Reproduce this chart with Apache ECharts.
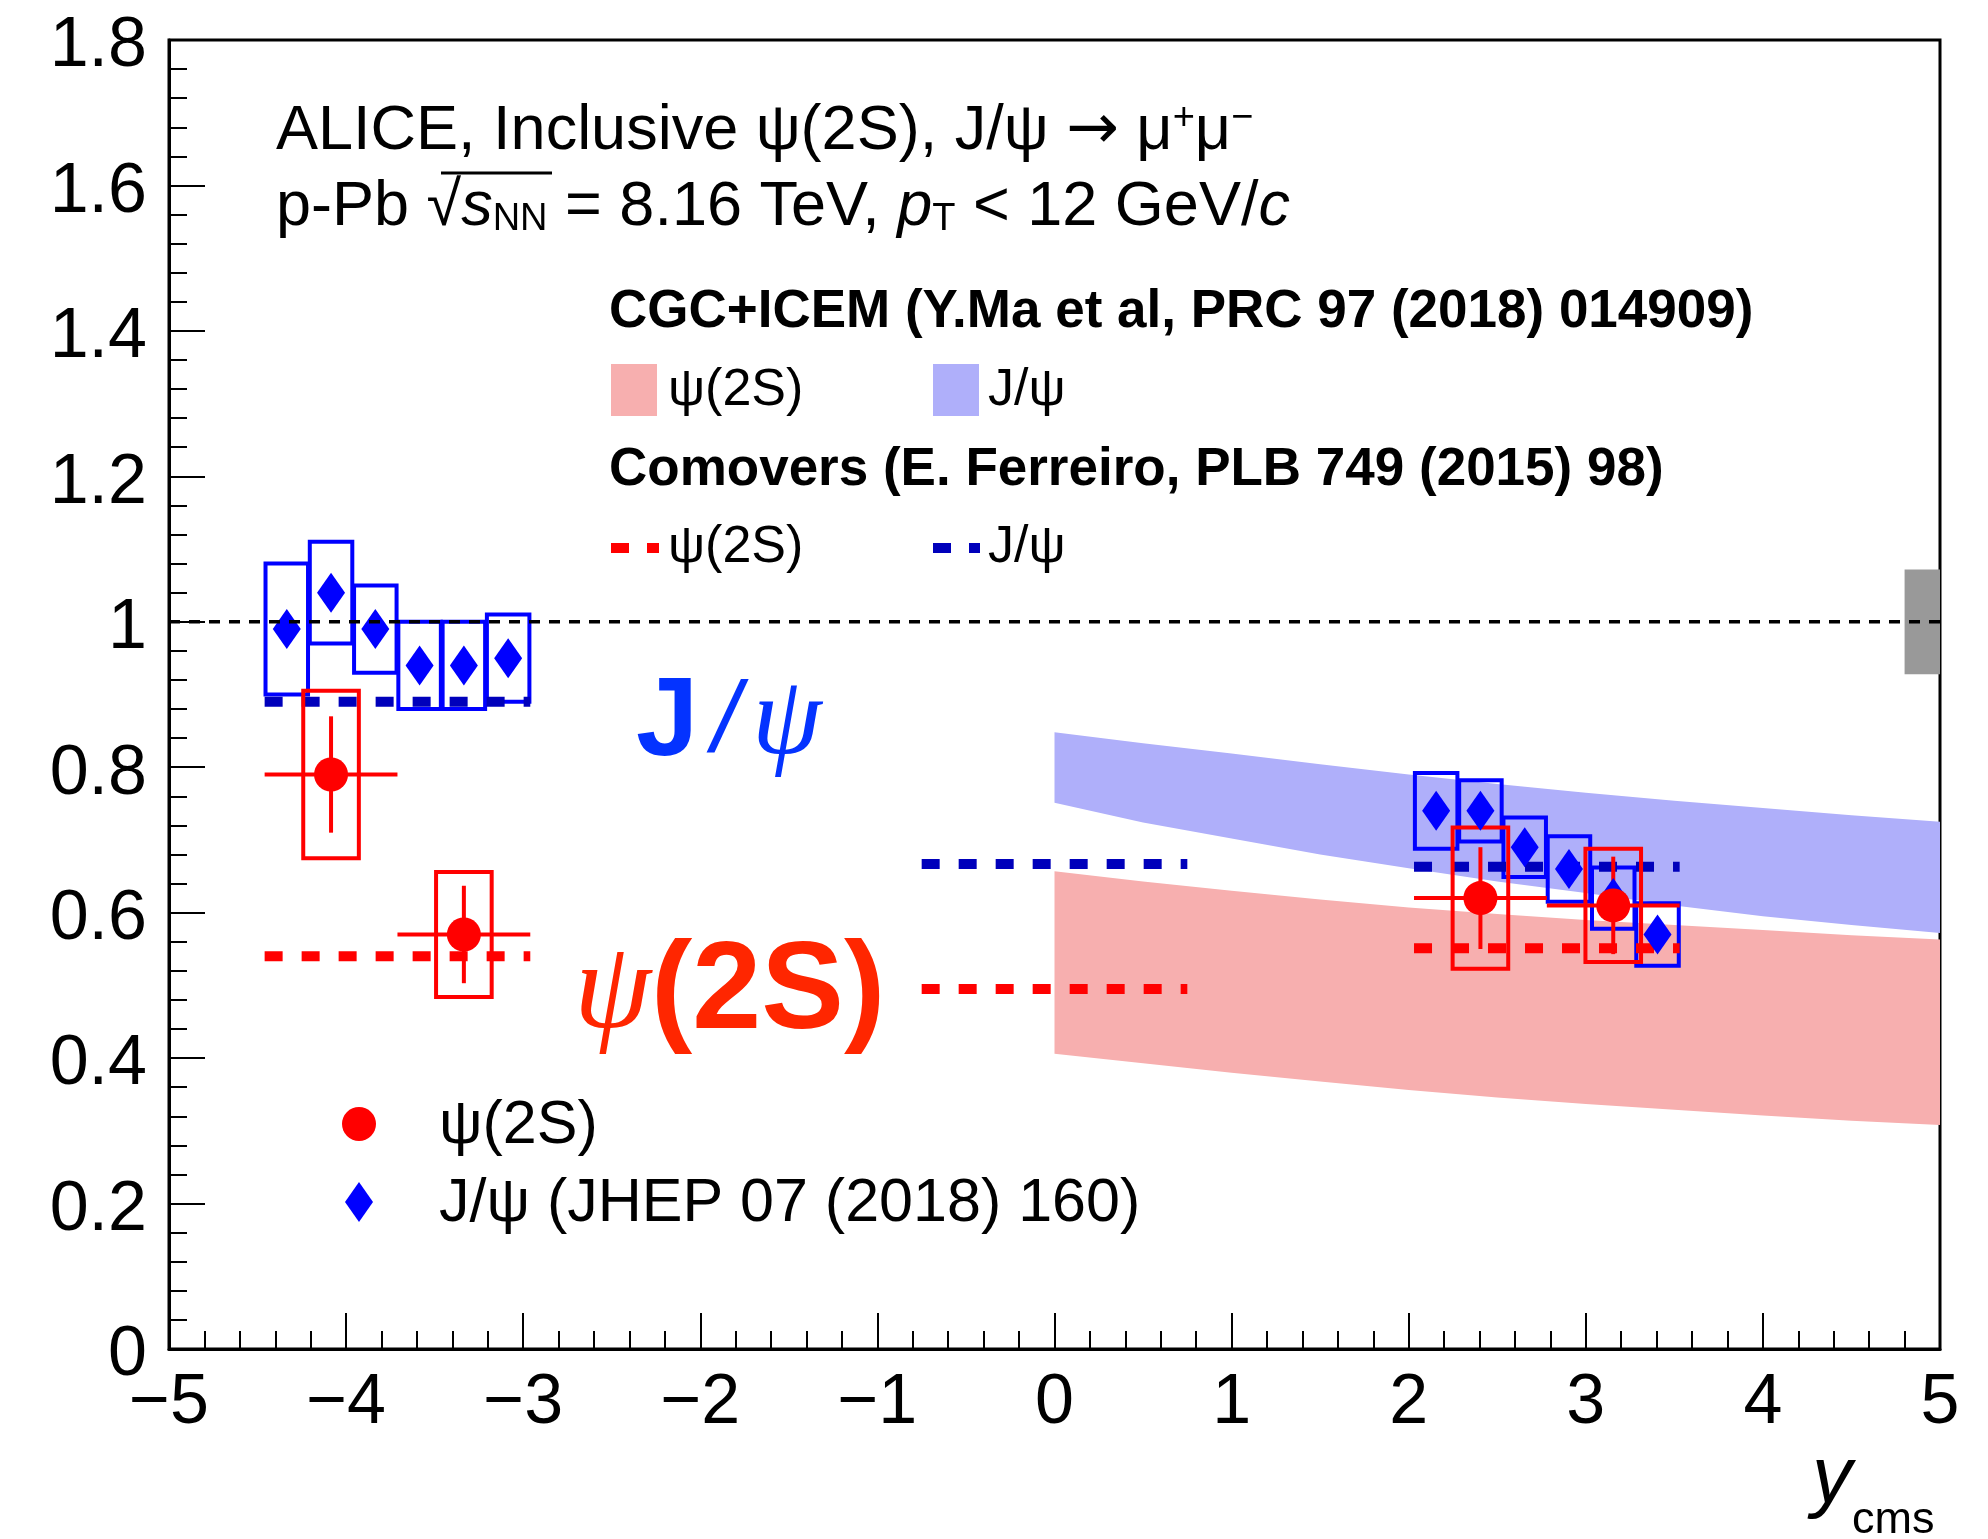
<!DOCTYPE html>
<html>
<head>
<meta charset="utf-8">
<script src="https://cdn.jsdelivr.net/npm/echarts@6/dist/echarts.min.js"></script>
<style>
  html, body { margin: 0; padding: 0; background: #ffffff; }
  #chart { width: 1988px; height: 1539px; }
</style>
</head>
<body>
<div id="chart"></div>
<script>
// ---------- data ----------
// Tick values
const xTicks = [-5, -4, -3, -2, -1, 0, 1, 2, 3, 4, 5];
const yTicks = [0, 0.2, 0.4, 0.6, 0.8, 1, 1.2, 1.4, 1.6, 1.8];

// J/psi R_pPb (JHEP 07 (2018) 160)
const jpsiRap = [-4.335, -4.085, -3.835, -3.585, -3.335, -3.085, 2.155, 2.405, 2.655, 2.905, 3.155, 3.405];
const jpsiVal = [0.99, 1.04, 0.99, 0.94, 0.94, 0.95, 0.74, 0.74, 0.69, 0.66, 0.62, 0.57];
const jpsiSys = [0.09, 0.07, 0.06, 0.06, 0.06, 0.06, 0.052, 0.042, 0.041, 0.045, 0.042, 0.043];
const jpsiBoxHalfWidth = 0.12;

// psi(2S) R_pPb
const psiRap = [-4.085, -3.335, 2.405, 3.155];
const psiBinHalf = [0.375, 0.375, 0.375, 0.375];
const psiVal = [0.79, 0.57, 0.62, 0.61];
const psiStat = [0.08, 0.067, 0.07, 0.067];
const psiSys = [0.115, 0.086, 0.097, 0.078];
const psiBoxHalfWidth = 0.157;

// CGC+ICEM bands
const cgcRap = [0, 0.5, 1, 1.5, 2, 2.5, 3, 3.5, 4, 4.5, 5];
const cgcJpsiHigh = [0.848, 0.833, 0.819, 0.804, 0.790, 0.777, 0.765, 0.754, 0.744, 0.734, 0.725];
const cgcJpsiLow = [0.751, 0.724, 0.702, 0.680, 0.661, 0.643, 0.627, 0.610, 0.595, 0.583, 0.572];
const cgcPsiHigh = [0.657, 0.643, 0.630, 0.618, 0.607, 0.598, 0.590, 0.583, 0.576, 0.569, 0.563];
const cgcPsiLow = [0.406, 0.393, 0.380, 0.368, 0.356, 0.346, 0.337, 0.329, 0.321, 0.314, 0.308];

// Comovers (rapidity ranges and values)
const comoversFrom = [-4.46, -0.75, 2.03];
const comoversTo = [-2.96, 0.75, 3.53];
const comoversJpsi = [0.89, 0.667, 0.663];
const comoversPsi = [0.54, 0.495, 0.551];

// Global normalisation uncertainty around unity
const globalFrom = 4.8;
const globalTo = 5.0;
const globalUnc = 0.072;

// ---------- styles ----------
const SANS = '"Liberation Sans", Arial, Helvetica, sans-serif';
const SERIF = '"Liberation Serif", "DejaVu Serif", "Times New Roman", serif';
const RED = '#ff0000';
const BLUE = '#0000ff';
const NAVY = '#0000bb';
const PINK_BAND = '#f7afaf';
const BLUE_BAND = '#afaffa';

// ---------- render helpers ----------
function bandItem(hi, lo, color) {
  return function (params, api) {
    if (params.dataIndex !== 0) return null;
    const pts = [];
    for (let i = 0; i < cgcRap.length; i++) pts.push(api.coord([cgcRap[i], hi[i]]));
    for (let i = cgcRap.length - 1; i >= 0; i--) pts.push(api.coord([cgcRap[i], lo[i]]));
    return { type: 'polygon', shape: { points: pts }, style: { fill: color } };
  };
}

function sysBoxItem(color) {
  return function (params, api) {
    const x = api.value(0), v = api.value(1), s = api.value(2), w = api.value(3);
    const a = api.coord([x - w, v + s]);
    const b = api.coord([x + w, v - s]);
    return {
      type: 'rect',
      shape: { x: a[0], y: a[1], width: b[0] - a[0], height: b[1] - a[1] },
      style: { fill: null, stroke: color, lineWidth: 4 }
    };
  };
}

function dashItem(color) {
  return function (params, api) {
    const a = api.coord([api.value(0), api.value(2)]);
    const b = api.coord([api.value(1), api.value(2)]);
    return {
      type: 'line',
      shape: { x1: a[0], y1: a[1], x2: b[0], y2: b[1] },
      style: { stroke: color, lineWidth: 10, lineDash: [18, 19] }
    };
  };
}

function statItem(params, api) {
  const x = api.value(0), v = api.value(1), dx = api.value(2), dy = api.value(3);
  const h1 = api.coord([x - dx, v]), h2 = api.coord([x + dx, v]);
  const v1 = api.coord([x, v - dy]), v2 = api.coord([x, v + dy]);
  return {
    type: 'group',
    children: [
      { type: 'line', shape: { x1: h1[0], y1: h1[1], x2: h2[0], y2: h2[1] }, style: { stroke: RED, lineWidth: 4 } },
      { type: 'line', shape: { x1: v1[0], y1: v1[1], x2: v2[0], y2: v2[1] }, style: { stroke: RED, lineWidth: 4 } }
    ]
  };
}

function globalItem(params, api) {
  const a = api.coord([api.value(0), api.value(2) + api.value(3)]);
  const b = api.coord([api.value(1), api.value(2) - api.value(3)]);
  return {
    type: 'rect',
    shape: { x: a[0], y: a[1], width: b[0] - a[0], height: b[1] - a[1] },
    style: { fill: '#999999' }
  };
}

const minusFmt = v => (v < 0 ? '\u2212' + Math.abs(v) : String(v));

const plain = (size, extra) => Object.assign({ fontSize: size, fontFamily: SANS, fontStyle: 'normal', fontWeight: 'normal', fill: '#000' }, extra || {});

const option = {
  animation: false,
  backgroundColor: '#ffffff',
  grid: { left: 169, right: 48, top: 40, bottom: 190, show: true, borderColor: '#000', borderWidth: 3, backgroundColor: 'transparent' },
  xAxis: {
    type: 'value', min: xTicks[0], max: xTicks[xTicks.length - 1], interval: 1,
    axisLine: { show: true, onZero: false, lineStyle: { color: '#000', width: 3 } },
    axisTick: { show: true, inside: true, length: 36, lineStyle: { color: '#000', width: 2 } },
    minorTick: { show: true, splitNumber: 5, length: 18, lineStyle: { color: '#000', width: 2 } },
    splitLine: { show: false },
    axisLabel: { color: '#000', fontSize: 70, fontFamily: SANS, margin: 20, formatter: minusFmt, showMinLabel: true, showMaxLabel: true }
  },
  yAxis: {
    type: 'value', min: yTicks[0], max: yTicks[yTicks.length - 1], interval: 0.2,
    axisLine: { show: true, onZero: false, lineStyle: { color: '#000', width: 3 } },
    axisTick: { show: true, inside: true, length: 36, lineStyle: { color: '#000', width: 2 } },
    minorTick: { show: true, splitNumber: 5, length: 18, lineStyle: { color: '#000', width: 2 } },
    splitLine: { show: false },
    axisLabel: { color: '#000', fontSize: 70, fontFamily: SANS, margin: 22, verticalAlign: 'top', lineHeight: 14, showMinLabel: true, showMaxLabel: true }
  },
  series: [
    {
      name: 'CGC+ICEM ψ(2S)', type: 'custom', clip: true, encode: { x: 0, y: 1 },
      data: cgcRap.map((x, i) => [x, cgcPsiHigh[i], cgcPsiLow[i]]),
      renderItem: bandItem(cgcPsiHigh, cgcPsiLow, PINK_BAND)
    },
    {
      name: 'CGC+ICEM J/ψ', type: 'custom', clip: true, encode: { x: 0, y: 1 },
      data: cgcRap.map((x, i) => [x, cgcJpsiHigh[i], cgcJpsiLow[i]]),
      renderItem: bandItem(cgcJpsiHigh, cgcJpsiLow, BLUE_BAND)
    },
    {
      name: 'unity', type: 'line', symbol: 'none', silent: true,
      data: [[xTicks[0], 1], [xTicks[xTicks.length - 1], 1]],
      lineStyle: { color: '#000', width: 3.5, type: [11, 9] }
    },
    {
      name: 'global', type: 'custom', clip: true, encode: { x: [0, 1], y: 2 },
      data: [[globalFrom, globalTo, 1, globalUnc]],
      renderItem: globalItem
    },
    {
      name: 'J/ψ syst', type: 'custom', clip: true, encode: { x: 0, y: 1 },
      data: jpsiRap.map((x, i) => [x, jpsiVal[i], jpsiSys[i], jpsiBoxHalfWidth]),
      renderItem: sysBoxItem(BLUE)
    },
    {
      name: 'Comovers J/ψ', type: 'custom', clip: true, encode: { x: [0, 1], y: 2 },
      data: comoversFrom.map((x, i) => [x, comoversTo[i], comoversJpsi[i]]),
      renderItem: dashItem(NAVY)
    },
    {
      name: 'Comovers ψ(2S)', type: 'custom', clip: true, encode: { x: [0, 1], y: 2 },
      data: comoversFrom.map((x, i) => [x, comoversTo[i], comoversPsi[i]]),
      renderItem: dashItem(RED)
    },
    {
      name: 'J/ψ (JHEP 07 (2018) 160)', type: 'scatter', symbol: 'diamond', symbolSize: [28, 40],
      itemStyle: { color: BLUE, opacity: 1 },
      data: jpsiRap.map((x, i) => [x, jpsiVal[i]])
    },
    {
      name: 'ψ(2S) syst', type: 'custom', clip: true, encode: { x: 0, y: 1 },
      data: psiRap.map((x, i) => [x, psiVal[i], psiSys[i], psiBoxHalfWidth]),
      renderItem: sysBoxItem(RED)
    },
    {
      name: 'ψ(2S) stat', type: 'custom', clip: true, encode: { x: 0, y: 1 },
      data: psiRap.map((x, i) => [x, psiVal[i], psiBinHalf[i], psiStat[i]]),
      renderItem: statItem
    },
    {
      name: 'ψ(2S)', type: 'scatter', symbol: 'circle', symbolSize: 34,
      itemStyle: { color: RED, opacity: 1 },
      data: psiRap.map((x, i) => [x, psiVal[i]])
    }
  ],
  graphic: [
    // header
    {
      type: 'text', left: 276, top: 100, z: 10,
      style: {
        text: 'ALICE, Inclusive ψ(2S), J/ψ {ar|→} μ{sup|+}μ{sup|−}',
        fontSize: 63, fontFamily: SANS, fill: '#000',
        rich: {
          ar: plain(63, { fontFamily: '"DejaVu Sans", sans-serif' }),
          sup: plain(38, { verticalAlign: 'top' })
        }
      }
    },
    {
      type: 'text', left: 276, top: 176, z: 10,
      style: {
        text: 'p-Pb {rt|√}{it|s}{sub|NN} = 8.16 TeV, {it|p}{sub|T} < 12 GeV/{it|c}',
        fontSize: 63, fontFamily: SANS, fill: '#000',
        rich: {
          rt: plain(63),
          it: plain(63, { fontStyle: 'italic' }),
          sub: plain(38, { verticalAlign: 'bottom' })
        }
      }
    },
    { type: 'line', z: 10, shape: { x1: 441, y1: 173, x2: 552, y2: 173 }, style: { stroke: '#000', lineWidth: 3 } },

    // model legend
    { type: 'text', left: 609, top: 286, z: 10, style: { text: 'CGC+ICEM (Y.Ma et al, PRC 97 (2018) 014909)', fontSize: 53, fontWeight: 'bold', fontFamily: SANS, fill: '#000' } },
    { type: 'rect', z: 10, shape: { x: 611, y: 364, width: 46, height: 52 }, style: { fill: PINK_BAND } },
    { type: 'text', left: 668, top: 365, z: 10, style: { text: 'ψ(2S)', fontSize: 52, fontFamily: SANS, fill: '#000' } },
    { type: 'rect', z: 10, shape: { x: 933, y: 364, width: 46, height: 52 }, style: { fill: BLUE_BAND } },
    { type: 'text', left: 988, top: 365, z: 10, style: { text: 'J/ψ', fontSize: 52, fontFamily: SANS, fill: '#000' } },
    { type: 'text', left: 609, top: 444, z: 10, style: { text: 'Comovers (E. Ferreiro, PLB 749 (2015) 98)', fontSize: 53, fontWeight: 'bold', fontFamily: SANS, fill: '#000' } },
    { type: 'line', z: 10, shape: { x1: 611, y1: 548, x2: 659, y2: 548 }, style: { stroke: RED, lineWidth: 10, lineDash: [18, 18] } },
    { type: 'text', left: 668, top: 522, z: 10, style: { text: 'ψ(2S)', fontSize: 52, fontFamily: SANS, fill: '#000' } },
    { type: 'line', z: 10, shape: { x1: 933, y1: 548, x2: 980, y2: 548 }, style: { stroke: NAVY, lineWidth: 10, lineDash: [18, 18] } },
    { type: 'text', left: 988, top: 522, z: 10, style: { text: 'J/ψ', fontSize: 52, fontFamily: SANS, fill: '#000' } },

    // big annotations
    {
      type: 'text', left: 636, top: 668, z: 10,
      style: {
        text: '{j|J}{s|/}{p|ψ}',
        rich: {
          j: { fontSize: 112, fontWeight: 'bold', fontStyle: 'normal', fontFamily: SANS, fill: '#0433ff' },
          s: { fontSize: 100, fontWeight: 'normal', fontStyle: 'italic', fontFamily: SANS, fill: '#0433ff', padding: [0, 12, 0, 14] },
          p: { fontSize: 112, fontWeight: 'normal', fontStyle: 'italic', fontFamily: SERIF, fill: '#0433ff' }
        }
      }
    },
    {
      type: 'text', left: 574, top: 932, z: 10,
      style: {
        text: '{p|ψ}{b|(2S)}',
        rich: {
          p: { fontSize: 124, fontWeight: 'normal', fontStyle: 'italic', fontFamily: SERIF, fill: '#ff2600' },
          b: { fontSize: 124, fontWeight: 'bold', fontStyle: 'normal', fontFamily: SANS, fill: '#ff2600' }
        }
      }
    },

    // data legend
    { type: 'circle', z: 10, shape: { cx: 359, cy: 1124, r: 17 }, style: { fill: RED } },
    { type: 'text', left: 439, top: 1096, z: 10, style: { text: 'ψ(2S)', fontSize: 61, fontFamily: SANS, fill: '#000' } },
    { type: 'polygon', z: 10, shape: { points: [[359, 1182], [373, 1202], [359, 1222], [345, 1202]] }, style: { fill: BLUE } },
    { type: 'text', left: 439, top: 1174, z: 10, style: { text: 'J/ψ (JHEP 07 (2018) 160)', fontSize: 61, fontFamily: SANS, fill: '#000' } },

    // x-axis title
    { type: 'text', z: 10, x: 1852, y: 1480, style: { text: 'y', fontSize: 80, fontStyle: 'italic', fontFamily: SANS, fill: '#000', align: 'right', verticalAlign: 'middle' } },
    { type: 'text', z: 10, x: 1852, y: 1521, style: { text: 'cms', fontSize: 45, fontFamily: SANS, fill: '#000', align: 'left', verticalAlign: 'middle' } }
  ]
};

const chart = echarts.init(document.getElementById('chart'));
chart.setOption(option);
</script>
</body>
</html>
